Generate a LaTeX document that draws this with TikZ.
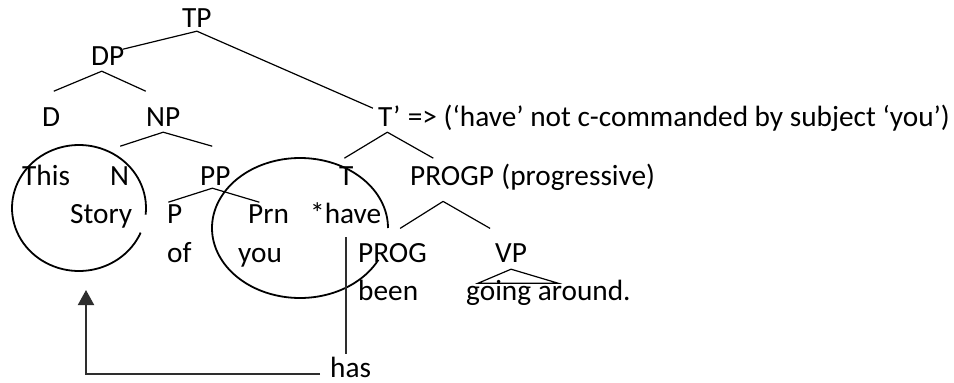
\documentclass[tikz,border=0pt]{standalone}
\usepackage{fontspec}
\setmainfont{Carlito}
\usepackage{tikz}
\usetikzlibrary{arrows.meta,positioning}
\tikzset{
  lbl/.style={anchor=base west, inner sep=2pt, font=\fontsize{29.3}{35}\selectfont},
  branch/.style={line width=1.2pt},
  ring/.style={line width=1.8pt},
  move/.style={line width=2pt, draw=black!82},
}

\begin{document}
\begin{tikzpicture}[x=1pt, y=-1pt]
  \useasboundingbox (0,0) rectangle (954,383);

  % Labels, row by row
  \node[lbl] (TP) at (180,27) {TP};
  \node[lbl] (DP) at (89,65) {DP};
  \node[lbl] (D) at (40,126) {D};
  \node[lbl] (NP) at (144,126) {NP};
  \node[lbl] (Tbar) at (376,126) {T’};
  \node[lbl,xshift=3pt] (note) at (Tbar.base east) {=> (‘have’ not c-commanded by subject ‘you’)};
  \node[lbl] (This) at (20,185) {This};
  \node[lbl] (N) at (108,185) {N};
  \node[lbl] (PP) at (198,185) {PP};
  \node[lbl] (T) at (337,185) {T};
  \node[lbl] (ProgP) at (408,185) {PROGP};
  \node[lbl,xshift=3pt] (prognote) at (ProgP.base east) {(progressive)};
  \node[lbl] (Story) at (68,223) {Story};
  \node[lbl] (P) at (165,223) {P};
  \node[lbl] (Prn) at (246,223) {Prn};
  \node[lbl] (have) at (308,223) {*have};
  \node[lbl] (of) at (165,262) {of};
  \node[lbl] (you) at (236,262) {you};
  \node[lbl] (PROG) at (356,262) {PROG};
  \node[lbl] (VP) at (493,262) {VP};
  \node[lbl] (been) at (356,300) {been};
  \node[lbl] (going) at (464,300) {going around.};
  \node[lbl] (has) at (328,377) {has};

  % Branches
  \draw[branch] (TP.south) ++(0,2) -- +(-74,18) +(0,0) -- +(176,77);
  \draw[branch] (DP.south) ++(-6,4) -- +(-48,20) +(0,0) -- +(44,20);
  \draw[branch] (NP.south) ++(0,4) -- +(-43,14) +(0,0) -- +(49,14);
  \draw[branch] (Tbar.south) ++(-2,4) -- +(-43,26) +(0,0) -- +(46,26);
  \draw[branch] (PP.south) ++(-3,1) -- +(-44,14) +(0,0) -- +(47,14);
  \draw[branch] (ProgP.south) ++(-9,14) -- +(-43,27) +(0,0) -- +(47,27);
  \draw[branch] (VP.south) ++(0,5) -- +(-33,14) -- +(47,14) -- cycle;

  % Circled constituents
  \draw[ring] plot[domain=23:366, samples=90, smooth] ({79+67*cos(\x)}, {208+63*sin(\x)});
  \draw[ring] plot[domain=27:360, samples=90, smooth] ({300+88*cos(\x)}, {228+70*sin(\x)});

  % Movement of have
  \coordinate (tip) at (86,290);
  \draw[move] ([yshift=-12pt]have.south) -- (have.south |- has.north);
  \draw[move, -{Triangle[length=15pt, width=16pt]}] ([xshift=-8pt, yshift=3pt]has.base west) -| (tip);
\end{tikzpicture}
\end{document}
